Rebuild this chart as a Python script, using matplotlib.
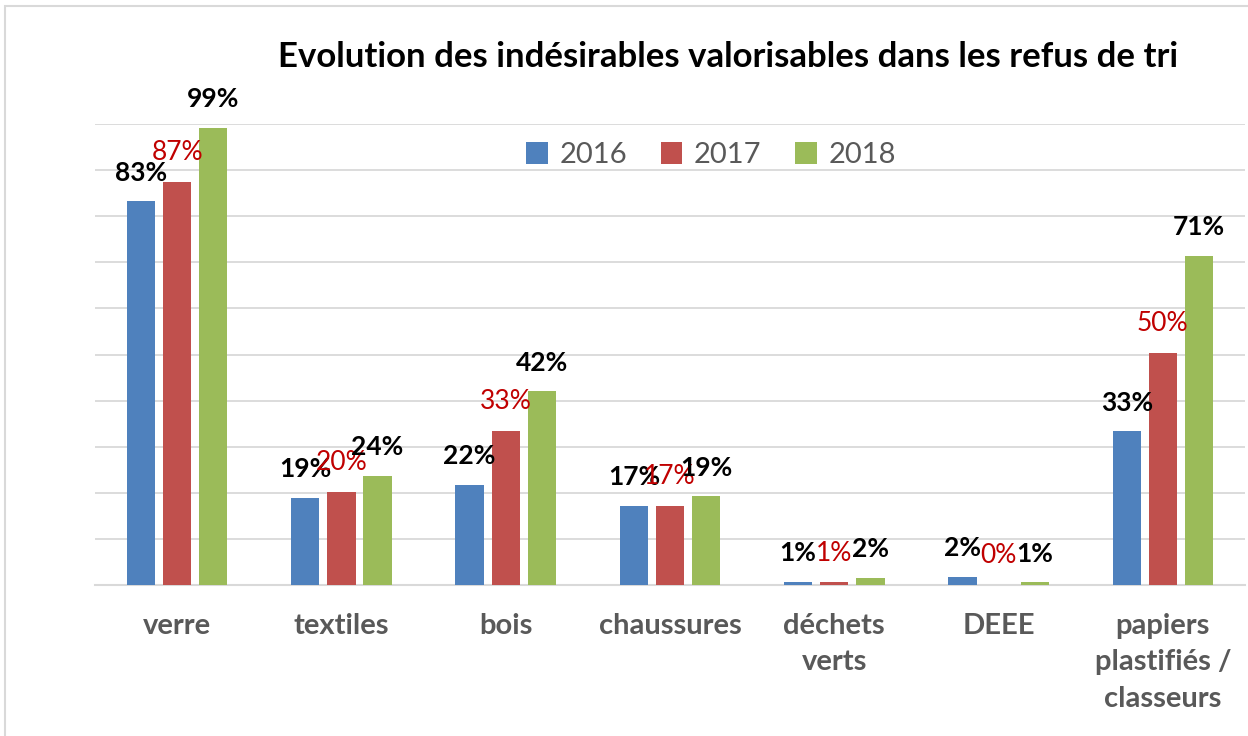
import numpy as np
import matplotlib.pyplot as plt
from matplotlib.patches import Rectangle

plt.rcParams['font.family'] = ['Lato', 'DejaVu Sans']

categories = ['verre', 'textiles', 'bois', 'chaussures', 'déchets\nverts', 'DEEE',
              'papiers\nplastifiés /\nclasseurs']
years = ['2016', '2017', '2018']
v2016 = [83.2, 18.9, 21.7, 17.2, 0.7, 1.7, 33.3]
v2017 = [87.4, 20.2, 33.4, 17.2, 0.6, 0.0, 50.4]
v2018 = [99.2, 23.7, 42.0, 19.2, 1.5, 0.6, 71.4]
labels2016 = ['83%', '19%', '22%', '17%', '1%', '2%', '33%']
labels2017 = ['87%', '20%', '33%', '17%', '1%', '0%', '50%']
labels2018 = ['99%', '24%', '42%', '19%', '2%', '1%', '71%']

colors = ['#4F81BD', '#C0504D', '#9BBB59']
label_colors = ['black', '#C00000', 'black']
label_weights = ['bold', 'normal', 'bold']

fig = plt.figure(figsize=(12.48, 7.36), dpi=100)
ax = fig.add_axes([95 / 1248, (736 - 585) / 736, (1245 - 95) / 1248, (585 - 124) / 736])

# light frame of the chart area
fig.patches.append(Rectangle((5 / 1248, -0.1), 1.2, (736 - 6) / 736 + 0.1,
                             transform=fig.transFigure, fill=False,
                             edgecolor='#d9d9d9', lw=1.5))

x = np.arange(len(categories))
w = 0.172
step = 0.22
series = [v2016, v2017, v2018]
all_labels = [labels2016, labels2017, labels2018]
for i, (vals, labs) in enumerate(zip(series, all_labels)):
    xs = x + (i - 1) * step
    ax.bar(xs, vals, width=w, color=colors[i], label=years[i], zorder=3)
    for xi, v, lab in zip(xs, vals, labs):
        ax.annotate(lab, (xi, v), xytext=(0, 12), textcoords='offset points',
                    ha='center', va='bottom', fontsize=19,
                    color=label_colors[i], fontweight=label_weights[i], zorder=4)

ax.set_xlim(-0.5, len(categories) - 0.5)
ax.set_ylim(0, 100)
ax.set_yticks(np.arange(0, 101, 10))
ax.set_yticklabels([])
ax.tick_params(axis='y', length=0)
ax.tick_params(axis='x', length=0, pad=20)
ax.set_xticks(x)
ax.set_xticklabels(categories, fontsize=21, fontweight='bold', color='#595959',
                   linespacing=1.5, va='top')
ax.grid(axis='y', color='#d9d9d9', lw=1.3, zorder=0)
for s in ['top', 'right', 'left']:
    ax.spines[s].set_visible(False)
ax.spines['bottom'].set_color('#d9d9d9')
ax.spines['bottom'].set_linewidth(1.5)

leg = ax.legend(loc='center', bbox_to_anchor=((711 - 95) / 1150, (585 - 155) / 461), ncol=3,
                frameon=False, fontsize=21, handlelength=0.75, handleheight=0.75,
                handletextpad=0.4, columnspacing=1.15)
for t in leg.get_texts():
    t.set_color('#595959')

fig.text(728 / 1248, 1 - 57 / 736, 'Evolution des indésirables valorisables dans les refus de tri',
         ha='center', va='center', fontsize=25, fontweight='bold')

fig.savefig('out.png', dpi=100)
